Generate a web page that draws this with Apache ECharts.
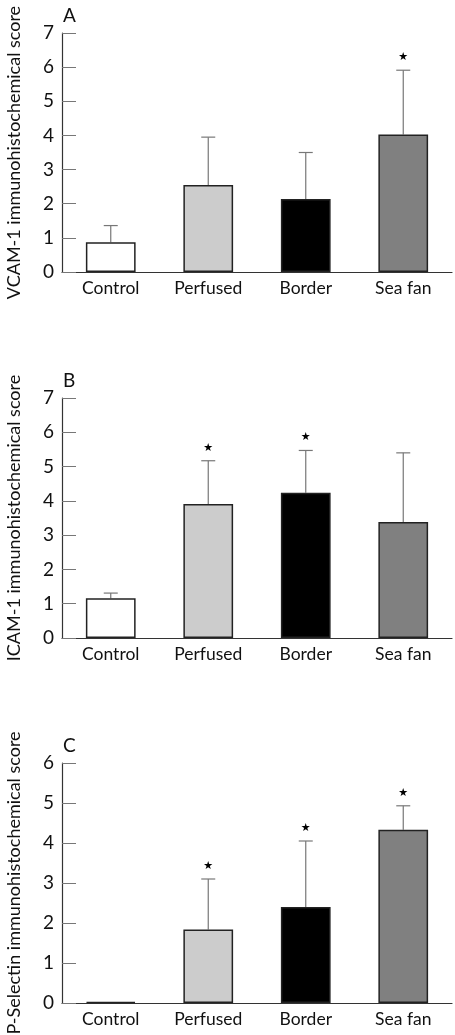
<!DOCTYPE html>
<html><head><meta charset="utf-8">
<script src="https://cdn.jsdelivr.net/npm/echarts@6/dist/echarts.min.js"></script>
<style>html,body{margin:0;padding:0;background:#fff}#c{width:455px;height:1035px}</style>
</head><body><div id="c"></div>
<script>
const categories = ['Control', 'Perfused', 'Border', 'Sea fan'];
const barColors = ['#ffffff', '#cccccc', '#000000', '#808080'];
const panelLetters = ['A', 'B', 'C'];
const yTitles = ['VCAM-1 immunohistochemical score', 'ICAM-1 immunohistochemical score', 'P-Selectin immunohistochemical score'];
const yMax = [7, 7, 6];
const vcamMean = [0.87, 2.55, 2.14, 4.03];
const vcamErr = [1.36, 3.95, 3.50, 5.91];
const vcamSig = [0, 0, 0, 1];
const icamMean = [1.16, 3.91, 4.24, 3.38];
const icamErr = [1.31, 5.17, 5.47, 5.40];
const icamSig = [0, 1, 1, 0];
const pselMean = [0.03, 1.84, 2.40, 4.33];
const pselErr = [null, 3.10, 4.05, 4.93];
const pselSig = [0, 1, 1, 1];

const means = [vcamMean, icamMean, pselMean];
const errs = [vcamErr, icamErr, pselErr];
const sigs = [vcamSig, icamSig, pselSig];
const FONT = 'Lato';
const grids = [
  {left: 62, right: 3, top: 33, height: 239, outerBoundsMode: 'none', containLabel: false},
  {left: 62, right: 3, top: 398, height: 240, outerBoundsMode: 'none', containLabel: false},
  {left: 62, right: 3, top: 763, height: 240, outerBoundsMode: 'none', containLabel: false}
];
const xAxes = [], yAxes = [], series = [], graphics = [];
grids.forEach((g, k) => {
  xAxes.push({
    type: 'category', gridIndex: k, data: categories, boundaryGap: true,
    axisLine: {lineStyle: {color: '#333', width: 1.2}},
    axisTick: {inside: true, length: 14, lineStyle: {color: '#333'}},
    axisLabel: {color: '#111', fontSize: 17.5, fontFamily: FONT, margin: 7}
  });
  yAxes.push({
    type: 'value', gridIndex: k, min: 0, max: yMax[k], interval: 1,
    name: yTitles[k], nameLocation: 'middle', nameRotate: 90, nameGap: 39,
    nameTextStyle: {color: '#111', fontSize: 18, fontFamily: FONT},
    splitLine: {show: false},
    axisLine: {show: true, lineStyle: {color: '#333', width: 1.2}},
    axisTick: {show: true, inside: true, length: 14, lineStyle: {color: '#777'}},
    axisLabel: {color: '#111', fontSize: 19, fontFamily: FONT, margin: 8}
  });
  series.push({
    type: 'bar', xAxisIndex: k, yAxisIndex: k, barWidth: '51%',
    data: means[k].map((v, i) => ({value: v, itemStyle: {color: barColors[i]}})),
    itemStyle: {borderColor: '#222', borderWidth: 1.5}
  });
  series.push({
    type: 'custom', xAxisIndex: k, yAxisIndex: k, z: 1,
    data: means[k].map((v, i) => [i, v, errs[k][i] == null ? v : errs[k][i], sigs[k][i]]),
    renderItem: (params, api) => {
      const i = api.value(0);
      const base = api.coord([i, api.value(1)]);
      const top = api.coord([i, api.value(2)]);
      const children = [];
      if (api.value(2) > api.value(1)) {
        children.push({type: 'line', shape: {x1: base[0], y1: base[1], x2: top[0], y2: top[1]}, style: {stroke: '#777', lineWidth: 1.2}});
        children.push({type: 'line', shape: {x1: top[0] - 7, y1: top[1], x2: top[0] + 7, y2: top[1]}, style: {stroke: '#777', lineWidth: 1.2}});
      }
      if (api.value(3)) {
        children.push({type: 'text', x: top[0], y: top[1] - 13, style: {text: '★', fontSize: 11, fontFamily: 'DejaVu Sans', fill: '#000', align: 'center', verticalAlign: 'middle'}});
      }
      return {type: 'group', children};
    }
  });
  graphics.push({type: 'text', left: 63, top: g.top - 27, style: {text: panelLetters[k], fontSize: 19, fontFamily: FONT, fill: '#111'}});
});
const chart = echarts.init(document.getElementById('c'), null, {renderer: 'canvas'});
chart.setOption({
  animation: false, backgroundColor: '#fff',
  grid: grids, xAxis: xAxes, yAxis: yAxes, series, graphic: graphics
});
</script></body></html>
